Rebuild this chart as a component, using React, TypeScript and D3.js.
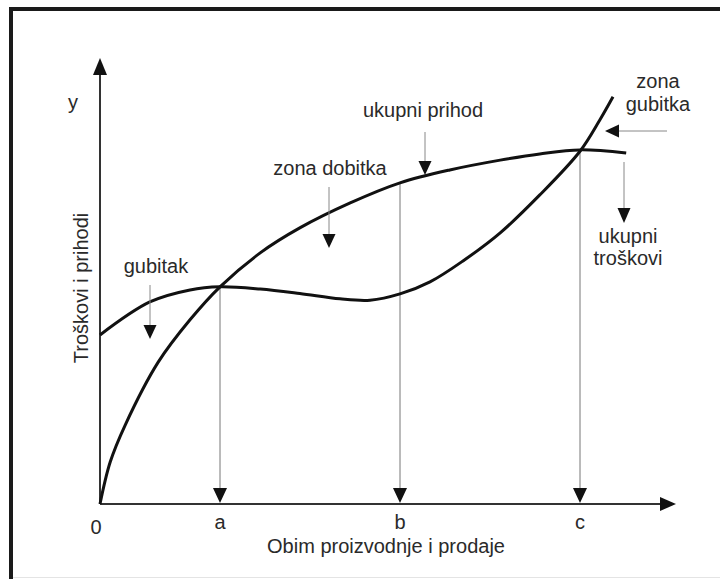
import React, { useEffect } from "react";
import * as d3 from "d3";

// Data (abstract units): x = output volume, y = costs / revenue
const costX = [0, 0.83, 1.5, 2.0, 2.67, 3.33, 4.0, 4.5, 5.0, 5.5, 6.05, 6.67, 7.33, 8.0, 8.33, 8.55];
const costY = [3.79, 4.53, 4.8, 4.87, 4.82, 4.72, 4.6, 4.57, 4.71, 4.98, 5.45, 6.08, 6.93, 7.91, 8.61, 9.13];
const revenueX = [0, 0.17, 0.42, 0.97, 1.5, 2.0, 2.67, 3.33, 4.17, 5.0, 5.83, 6.67, 7.33, 8.0, 8.77];
const revenueY = [0, 0.94, 1.77, 3.18, 4.13, 4.87, 5.63, 6.19, 6.75, 7.2, 7.49, 7.71, 7.85, 7.94, 7.87];
const tickLabels = ["a", "b", "c"];
const tickValues = [2, 5, 8];

const W = 720;
const H = 579;

export default function App() {
  useEffect(() => {
    document.body.style.margin = "0";
  }, []);

  const x = d3.scaleLinear().domain([0, 9.6]).range([100, 676]);
  const y = d3.scaleLinear().domain([0, 10]).range([504, 58]);

  const line = d3
    .line<[number, number]>()
    .x((d) => x(d[0]))
    .y((d) => y(d[1]))
    .curve(d3.curveCatmullRom.alpha(0.5));

  const cost: [number, number][] = costX.map((v, i) => [v, costY[i]]);
  const revenue: [number, number][] = revenueX.map((v, i) => [v, revenueY[i]]);

  const revAt = d3.scaleLinear().domain(revenueX).range(revenueY);

  const font = "'Liberation Sans', Arial, Helvetica, sans-serif";
  const txt = "#2a2a2a";
  const fs = 20;

  const downHead = (cx: number, tip: number, len = 15, hw = 7) =>
    `M${cx},${tip} L${cx - hw},${tip - len} L${cx + hw},${tip - len} Z`;

  const x0 = x(0);
  const y0 = y(0);

  return (
    <svg width={W} height={H} style={{ display: "block", background: "#fff" }} fontFamily={font}>
      <rect x={0} y={0} width={W} height={H} fill="#fff" />
      {/* frame */}
      <line x1={9} y1={9} x2={W} y2={9} stroke="#1a1a1a" strokeWidth={4} />
      <line x1={11} y1={7} x2={11} y2={H} stroke="#1a1a1a" strokeWidth={4} />
      <line x1={13} y1={577.5} x2={W} y2={577.5} stroke="#e4e4e4" strokeWidth={1} />

      {/* axes */}
      <line x1={x0} y1={y0} x2={x0} y2={72} stroke="#333" strokeWidth={2} />
      <path d={`M${x0},58 L${x0 - 7},75 L${x0 + 7},75 Z`} fill="#111" />
      <line x1={x0} y1={y0} x2={662} y2={y0} stroke="#333" strokeWidth={2} />
      <path d={`M676,${y0} L660,${y0 - 7} L660,${y0 + 7} Z`} fill="#111" />

      {/* drop lines */}
      {tickValues.map((t, i) => (
        <g key={tickLabels[i]}>
          <line x1={x(t)} y1={y(revAt(t))} x2={x(t)} y2={y0 - 12} stroke="#777" strokeWidth={1} />
          <path d={downHead(x(t), y0 - 1)} fill="#111" />
          <text x={x(t)} y={y0 + 25} textAnchor="middle" fontSize={fs} fill={txt}>
            {tickLabels[i]}
          </text>
        </g>
      ))}
      <text x={96} y={y0 + 30} textAnchor="middle" fontSize={fs} fill={txt}>
        0
      </text>

      {/* curves */}
      <path d={line(cost) || ""} fill="none" stroke="#111" strokeWidth={3} />
      <path d={line(revenue) || ""} fill="none" stroke="#111" strokeWidth={3} />

      {/* axis titles */}
      <text x={73} y={109} textAnchor="middle" fontSize={fs} fill={txt}>
        y
      </text>
      <text
        transform={`translate(88,288) rotate(-90)`}
        textAnchor="middle"
        fontSize={fs}
        fill={txt}
      >
        Troškovi i prihodi
      </text>
      <text x={386} y={553} textAnchor="middle" fontSize={fs} fill={txt}>
        Obim proizvodnje i prodaje
      </text>

      {/* annotations */}
      <text x={156} y={273} textAnchor="middle" fontSize={fs} fill={txt}>
        gubitak
      </text>
      <line x1={150} y1={285} x2={150} y2={328} stroke="#888" strokeWidth={1} />
      <path d={downHead(150, 339, 14, 6.5)} fill="#111" />

      <text x={330} y={175} textAnchor="middle" fontSize={fs} fill={txt}>
        zona dobitka
      </text>
      <line x1={329} y1={187} x2={329} y2={236} stroke="#888" strokeWidth={1} />
      <path d={downHead(329, 248, 14, 6.5)} fill="#111" />

      <text x={423} y={117} textAnchor="middle" fontSize={fs} fill={txt}>
        ukupni prihod
      </text>
      <line x1={425} y1={132} x2={425} y2={164} stroke="#888" strokeWidth={1} />
      <path d={downHead(425, 175, 14, 6.5)} fill="#111" />

      <text x={658} y={88} textAnchor="middle" fontSize={fs} fill={txt}>
        zona
      </text>
      <text x={658} y={111} textAnchor="middle" fontSize={fs} fill={txt}>
        gubitka
      </text>
      <line x1={667} y1={131} x2={616} y2={131} stroke="#888" strokeWidth={1} />
      <path d="M605,131 L619,124.5 L619,137.5 Z" fill="#111" />

      <line x1={624} y1={162} x2={624} y2={210} stroke="#888" strokeWidth={1} />
      <path d={downHead(624, 223, 15, 6.5)} fill="#111" />
      <text x={628} y={243} textAnchor="middle" fontSize={fs} fill={txt}>
        ukupni
      </text>
      <text x={628} y={265} textAnchor="middle" fontSize={fs} fill={txt}>
        troškovi
      </text>
    </svg>
  );
}
